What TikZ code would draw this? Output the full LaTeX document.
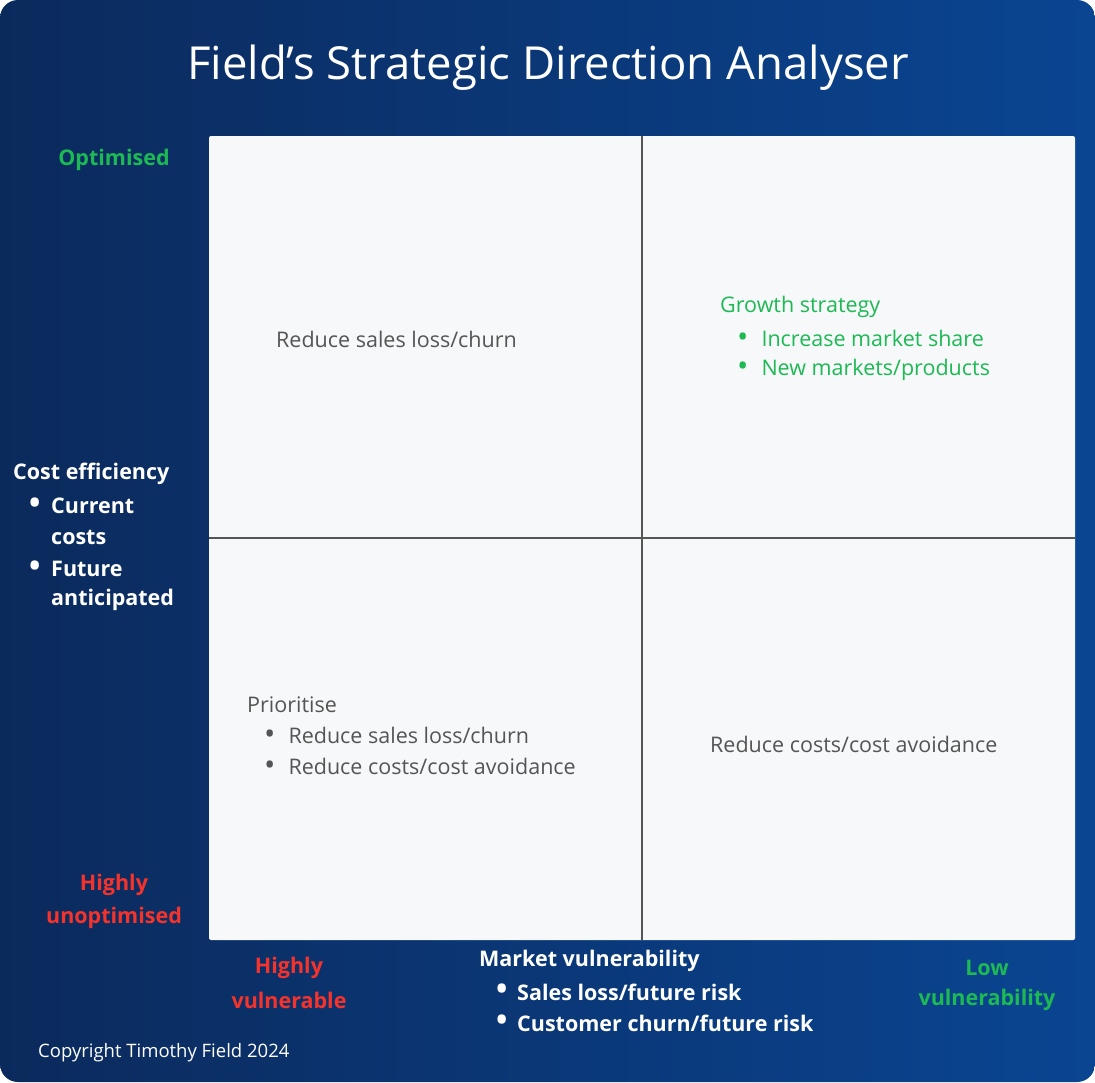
\documentclass[tikz,border=0pt]{standalone}
\usepackage{fontspec}
\setmainfont{Open Sans}[BoldFont={Open Sans Bold}]
\definecolor{navyL}{HTML}{0B2A5C}
\definecolor{navyR}{HTML}{0A4592}
\definecolor{panel}{HTML}{F7F8FA}
\definecolor{divc}{HTML}{555555}
\definecolor{txt}{HTML}{555555}
\definecolor{grn}{HTML}{1DB954}
\definecolor{rd}{HTML}{F5332B}
\newcommand{\bul}{\raisebox{-0.12ex}{\scalebox{1.4}{•}}}
\begin{document}
\begin{tikzpicture}[x=1pt,y=-1pt,
  lbl/.style={inner sep=0pt,font=\fontsize{21.5}{24}\selectfont},
  bld/.style={inner sep=0pt,font=\fontsize{21.5}{24}\selectfont\bfseries},
  qt/.style={lbl,text=txt,anchor=west}]
\useasboundingbox (0,0) rectangle (1095,1082);
\fill[white] (0,0) rectangle (1095,1082);
\shade[left color=navyL,right color=navyR,rounded corners=18pt] (0,0) rectangle (1095,1082);
\node[lbl,text=white,font=\fontsize{45.5}{50}\selectfont] (title) at (548,68) {Field’s Strategic Direction Analyser};
\fill[panel,rounded corners=2pt] (209,136) rectangle (1075,940);
\coordinate (vt) at (642,136); \coordinate (vb) at (642,940);
\coordinate (hl) at (209,538); \coordinate (hr) at (1075,538);
\draw[divc,line width=1.3pt] (vt)--(vb);
\draw[divc,line width=1.3pt] (hl)--(hr);
% left axis
\node[bld,text=grn] (opt) at (114,160) {Optimised};
\node[bld,text=white,anchor=west] (ce) at (13,474) {Cost efficiency};
\node[bld,text=white,anchor=west] (b1) at (29,506) {\bul};
\node[bld,text=white,anchor=west] (cc1) at (51,506) {Current};
\node[bld,text=white,anchor=west] (cc2) at (51,537) {costs};
\node[bld,text=white,anchor=west] (b2) at (29,569) {\bul};
\node[bld,text=white,anchor=west] (fa1) at (51,569) {Future};
\node[bld,text=white,anchor=west] (fa2) at (51,600) {anticipated};
\node[bld,text=rd] (hu1) at (114,885) {Highly};
\node[bld,text=rd] (hu2) at (114,918) {unoptimised};
% bottom axis
\node[bld,text=rd] (hv1) at (289,968) {Highly};
\node[bld,text=rd] (hv2) at (289,1000) {vulnerable};
\node[bld,text=white,anchor=west] (mv) at (479,961) {Market vulnerability};
\node[bld,text=white,anchor=west] (b3) at (496,992) {\bul};
\node[bld,text=white,anchor=west] (s1) at (517,992) {Sales loss/future risk};
\node[bld,text=white,anchor=west] (b4) at (496,1023) {\bul};
\node[bld,text=white,anchor=west] (s2) at (517,1023) {Customer churn/future risk};
\node[bld,text=grn] (lv1) at (987,968) {Low};
\node[bld,text=grn] (lv2) at (987,1000) {vulnerability};
\node[lbl,text=white,anchor=west,font=\fontsize{18.5}{20}\selectfont] (copy) at (38,1053) {Copyright Timothy Field 2024};
% quadrants
\node[qt] (q1) at (276,339) {Reduce sales loss/churn};
\node[qt,text=grn] (q2) at (720,307) {Growth strategy};
\node[qt,text=grn] (q2b1) at (737,339) {\bul\hspace{13pt}Increase market share};
\node[qt,text=grn] (q2b2) at (737,370) {\bul\hspace{13pt}New markets/products};
\node[qt] (q3) at (247,705) {Prioritise};
\node[qt] (q3b1) at (264,736) {\bul\hspace{13pt}Reduce sales loss/churn};
\node[qt] (q3b2) at (264,767) {\bul\hspace{13pt}Reduce costs/cost avoidance};
\node[qt] (q4) at (710,744) {Reduce costs/cost avoidance};
\end{tikzpicture}
\end{document}
